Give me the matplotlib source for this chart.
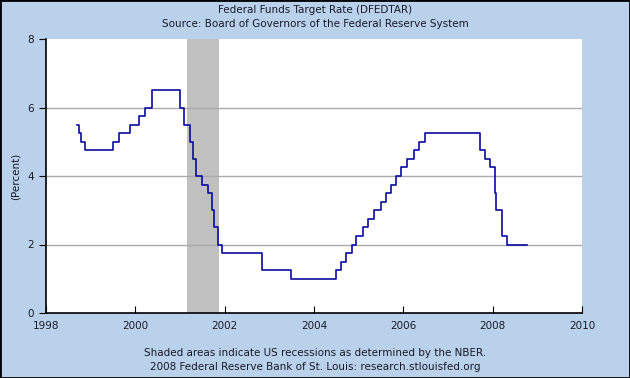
import numpy as np
import pandas as pd
import matplotlib
matplotlib.use('Agg')
import matplotlib.pyplot as plt

# target rate changes (date, percent)
dates = ['1998-09-15', '1998-09-29', '1998-10-15', '1998-11-17', '1999-06-30',
         '1999-08-24', '1999-11-16', '2000-02-02', '2000-03-21', '2000-05-16',
         '2001-01-03', '2001-01-31', '2001-03-20', '2001-04-18', '2001-05-15',
         '2001-06-27', '2001-08-21', '2001-09-17', '2001-10-02', '2001-11-06',
         '2001-12-11', '2002-11-06', '2003-06-25', '2004-06-30', '2004-08-10',
         '2004-09-21', '2004-11-10', '2004-12-14', '2005-02-02', '2005-03-22',
         '2005-05-03', '2005-06-30', '2005-08-09', '2005-09-20', '2005-11-01',
         '2005-12-13', '2006-01-31', '2006-03-28', '2006-05-10', '2006-06-29',
         '2007-09-18', '2007-10-31', '2007-12-11', '2008-01-22', '2008-01-30',
         '2008-03-18', '2008-04-30', '2008-10-07']
rates = [5.50, 5.25, 5.00, 4.75, 5.00,
         5.25, 5.50, 5.75, 6.00, 6.50,
         6.00, 5.50, 5.00, 4.50, 4.00,
         3.75, 3.50, 3.00, 2.50, 2.00,
         1.75, 1.25, 1.00, 1.25, 1.50,
         1.75, 2.00, 2.25, 2.50, 2.75,
         3.00, 3.25, 3.50, 3.75, 4.00,
         4.25, 4.50, 4.75, 5.00, 5.25,
         4.75, 4.50, 4.25, 3.50, 3.00,
         2.25, 2.00, 2.00]
recession = ['2001-03-01', '2001-11-15']
year_ticks = [1998, 2000, 2002, 2004, 2006, 2008, 2010]

bg = '#b9d1ea'
txt = '#1a1a2a'
fig = plt.figure(figsize=(6.3, 3.78), dpi=100, facecolor=bg)
fig.patches.append(plt.Rectangle((0, 0), 1, 1, transform=fig.transFigure,
                                 fill=False, edgecolor='black', linewidth=2))
ax = fig.add_axes([46/630, 1-313/378, 536/630, 274/378])

d = pd.to_datetime(dates)
ax.step(d, rates, where='post', color='#0a0aa0', linewidth=1.2, zorder=3)
ax.axvspan(pd.Timestamp(recession[0]), pd.Timestamp(recession[1]),
           color='#c0c0c0', zorder=1, linewidth=0)

ax.set_xlim(pd.Timestamp('1998-01-01'), pd.Timestamp('2010-01-01'))
ax.set_ylim(0, 8)
ax.set_xticks([pd.Timestamp(f'{y}-01-01') for y in year_ticks])
ax.set_xticklabels([str(y) for y in year_ticks])
ax.set_yticks([0, 2, 4, 6, 8])
for yv in [2, 4, 6]:
    ax.axhline(yv, color='#aaaaaa', linewidth=1, zorder=2)

for s in ['top', 'right']:
    ax.spines[s].set_visible(False)
ax.spines['left'].set_linewidth(1.2)
ax.spines['bottom'].set_linewidth(1.2)
ax.tick_params(axis='x', direction='in', length=5, labelsize=7.5, pad=6,
               colors='black', labelcolor=txt)
ax.tick_params(axis='y', direction='out', length=5, labelsize=7.5,
               labelcolor=txt)
ax.set_ylabel('(Percent)', fontsize=7.5, color=txt)
ax.yaxis.set_label_coords(-25/536, 0.5)

fig.text(0.5, 1-10/378, 'Federal Funds Target Rate (DFEDTAR)', ha='center',
         va='center', fontsize=7.5, color=txt)
fig.text(0.5, 1-24/378, 'Source: Board of Governors of the Federal Reserve System',
         ha='center', va='center', fontsize=7.5, color=txt)
fig.text(0.5, 1-353/378, 'Shaded areas indicate US recessions as determined by the NBER.',
         ha='center', va='center', fontsize=7.5, color=txt)
fig.text(0.5, 1-367/378, '2008 Federal Reserve Bank of St. Louis: research.stlouisfed.org',
         ha='center', va='center', fontsize=7.5, color=txt)

fig.savefig('out.png', dpi=100, facecolor=bg)
